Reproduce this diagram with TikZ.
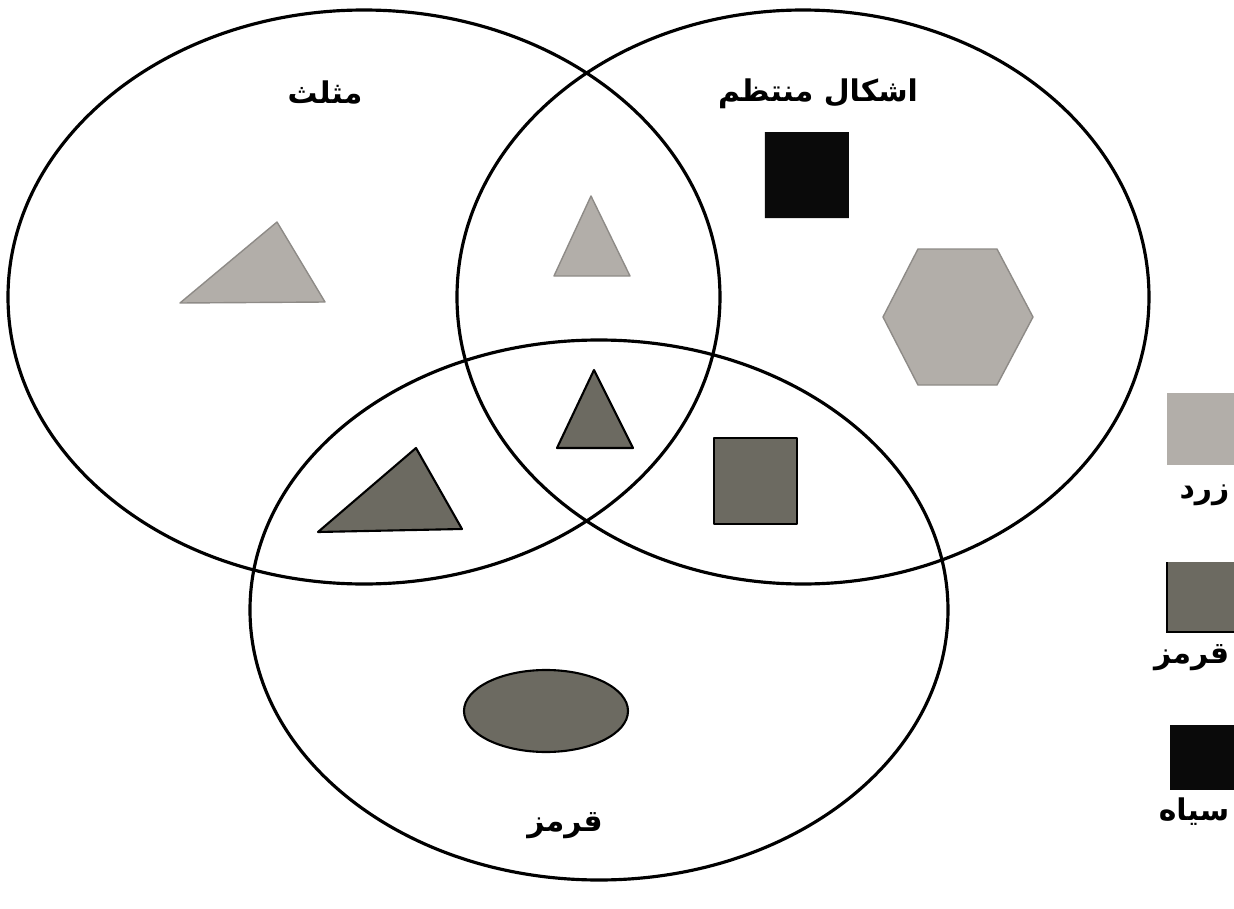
\documentclass[tikz,border=0pt]{standalone}
\usepackage{fontspec}
\newfontfamily\arabicfont[Script=Arabic]{DejaVu Sans}
\TeXXeTstate=1
\usepackage{tkz-euclide}
\definecolor{LightClr}{HTML}{B2AEA9}
\definecolor{DarkClr}{HTML}{6C6A61}
\definecolor{BlackClr}{HTML}{0A0A0A}

\begin{document}
\begin{tikzpicture}[setline/.style={line width=0.9pt,color=black},
  setname/.style={font=\arabicfont\bfseries\fontsize{8.5}{10}\selectfont,inner sep=0pt}]
\useasboundingbox (0,0) rectangle (12.34,9.08);
\clip (0,0) rectangle (12.34,9.08);

% the three sets
\draw[setline] (3.64,6.11) ellipse [x radius=3.56,y radius=2.87];
\draw[setline] (8.03,6.11) ellipse [x radius=3.46,y radius=2.87];
\draw[setline] (5.99,2.98) ellipse [x radius=3.49,y radius=2.70];

\tkzDefPoints{1.80/6.05/T1,3.25/6.06/T2,2.77/6.86/T3,
  5.54/6.32/U1,6.30/6.32/U2,5.91/7.12/U3,
  5.57/4.60/V1,6.33/4.60/V2,5.94/5.38/V3,
  3.18/3.76/W1,4.62/3.79/W2,4.16/4.60/W3}
\tkzDefPoints{8.83/5.91/H1,9.18/6.59/H2,9.97/6.59/H3,10.33/5.91/H4,9.97/5.23/H5,9.18/5.23/H6}
\tkzDefPoints{7.65/6.90/S1,8.49/6.90/S2,8.49/7.76/S3,7.65/7.76/S4,
  7.14/3.84/Q1,7.97/3.84/Q2,7.97/4.70/Q3,7.14/4.70/Q4}

% yellow ones
\tkzFillPolygon[fill=LightClr](T1,T2,T3)
\tkzDrawPolygon[line width=0.4pt,color=LightClr!80!black](T1,T2,T3)
\tkzFillPolygon[fill=LightClr](U1,U2,U3)
\tkzDrawPolygon[line width=0.4pt,color=LightClr!80!black](U1,U2,U3)
\tkzFillPolygon[fill=LightClr](H1,H2,H3,H4,H5,H6)
\tkzDrawPolygon[line width=0.4pt,color=LightClr!80!black](H1,H2,H3,H4,H5,H6)

% red ones
\tkzFillPolygon[fill=DarkClr](V1,V2,V3)
\tkzDrawPolygon[line width=0.6pt,color=black](V1,V2,V3)
\tkzFillPolygon[fill=DarkClr](W1,W2,W3)
\tkzDrawPolygon[line width=0.6pt,color=black](W1,W2,W3)
\tkzFillPolygon[fill=DarkClr](Q1,Q2,Q3,Q4)
\tkzDrawPolygon[line width=0.6pt,color=black](Q1,Q2,Q3,Q4)
\filldraw[fill=DarkClr,draw=black,line width=0.6pt] (5.46,1.97) ellipse [x radius=0.82,y radius=0.41];

% black one
\tkzFillPolygon[fill=BlackClr](S1,S2,S3,S4)

\node[setname] (lblTri) at (3.25,8.16) {\beginR مثلث\endR};
\node[setname] (lblReg) at (8.18,8.14) {\beginR اشکال منتظم\endR};
\node[setname] (lblRed) at (5.65,0.82) {\beginR قرمز\endR};

% legend
\fill[LightClr] (11.67,4.43) rectangle (12.40,5.15);
\fill[DarkClr] (11.67,2.76) rectangle (12.40,3.46);
\draw[line width=0.6pt] (11.67,3.46) -- (11.67,2.76) -- (12.40,2.76);
\fill[BlackClr] (11.70,1.18) rectangle (12.40,1.83);
\node[setname,anchor=east] (keyYel) at (12.30,4.13) {\beginR زرد\endR};
\node[setname,anchor=east] (keyRed) at (12.30,2.50) {\beginR قرمز\endR};
\node[setname,anchor=east] (keyBlk) at (12.30,0.96) {\beginR سیاه\endR};
\end{tikzpicture}
\end{document}
